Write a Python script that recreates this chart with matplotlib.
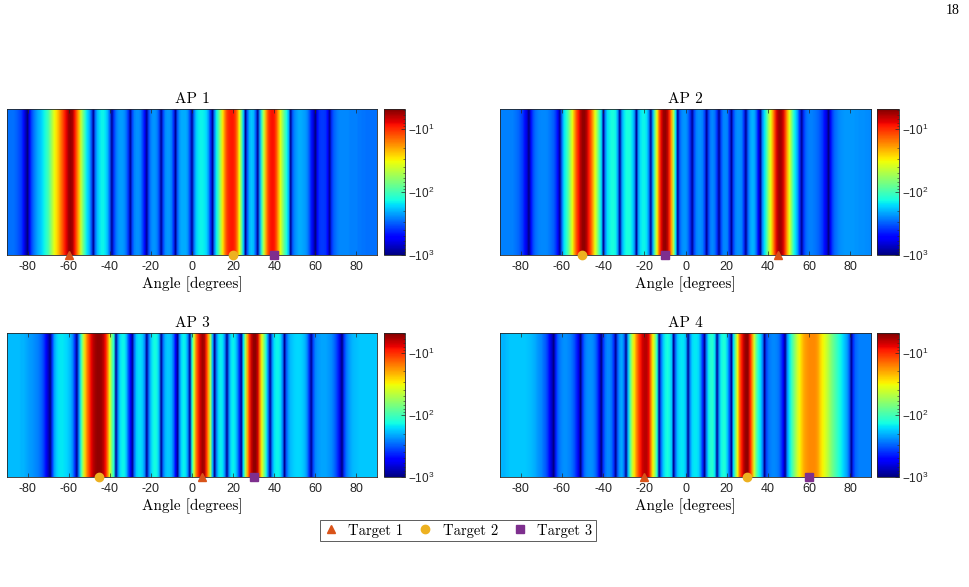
import numpy as np
import matplotlib
matplotlib.use("Agg")
import matplotlib.pyplot as plt
from matplotlib.lines import Line2D

# ---------------- data ----------------
# angle grid in degrees
angles = np.arange(-90, 91)

# spectrum value = -10**x ; lists hold x = log10(|value|) per degree, -90..90
ap1_log10_mag = [
    2.45, 2.45, 2.45, 2.45, 2.47, 2.5, 2.53, 2.58, 2.68, 2.85,
    3.0, 2.75, 2.55, 2.45, 2.38, 2.32, 2.27, 2.22, 2.15, 2.08,
    2.0, 1.85, 1.7, 1.55, 1.45, 1.35, 1.22, 1.1, 0.98, 0.88,
    0.75, 0.72, 0.78, 0.95, 1.15, 1.35, 1.65, 1.85, 2.05, 2.2,
    2.3, 2.5, 2.95, 2.45, 2.28, 2.2, 2.15, 2.15, 2.2, 2.3,
    2.5, 2.95, 2.6, 2.45, 2.38, 2.35, 2.35, 2.38, 2.45, 2.6,
    2.95, 2.55, 2.42, 2.38, 2.38, 2.42, 2.55, 2.7, 2.95, 2.55,
    2.42, 2.37, 2.37, 2.42, 2.55, 2.95, 2.55, 2.4, 2.36, 2.36,
    2.42, 2.6, 2.95, 2.5, 2.36, 2.32, 2.32, 2.32, 2.38, 2.55,
    2.95, 2.45, 2.25, 2.18, 2.15, 2.15, 2.17, 2.22, 2.35, 2.6,
    2.95, 2.4, 2.15, 1.95, 1.7, 1.45, 1.22, 1.05, 0.98, 0.95,
    0.95, 1.02, 1.2, 1.5, 1.85, 2.25, 2.95, 2.5, 2.3, 2.25,
    2.3, 2.5, 2.95, 2.35, 2.0, 1.65, 1.3, 1.08, 0.97, 0.93,
    0.95, 1.08, 1.3, 1.55, 1.75, 1.95, 2.12, 2.3, 2.95, 2.5,
    2.4, 2.35, 2.32, 2.32, 2.33, 2.35, 2.4, 2.5, 2.65, 2.8,
    3.0, 2.7, 2.6, 2.58, 2.58, 2.6, 2.7, 2.95, 2.6, 2.5,
    2.45, 2.42, 2.4, 2.4, 2.4, 2.4, 2.4, 2.42, 2.42, 2.42,
    2.42, 2.43, 2.43, 2.44, 2.44, 2.45, 2.45, 2.45, 2.45, 2.45,
    2.45,
]
ap2_log10_mag = [
    2.42, 2.42, 2.42, 2.42, 2.42, 2.42, 2.42, 2.43, 2.45, 2.48,
    2.52, 2.58, 2.68, 2.8, 3.0, 2.7, 2.55, 2.47, 2.43, 2.41,
    2.4, 2.4, 2.4, 2.41, 2.43, 2.46, 2.5, 2.58, 2.7, 2.95,
    2.45, 2.2, 2.1, 1.95, 1.75, 1.55, 1.3, 1.1, 0.95, 0.8,
    0.72, 0.72, 0.8, 0.95, 1.1, 1.3, 1.55, 1.75, 2.0, 2.2,
    2.95, 2.4, 2.2, 2.15, 2.12, 2.12, 2.15, 2.35, 2.95, 2.35,
    2.2, 2.13, 2.12, 2.13, 2.2, 2.35, 2.95, 2.35, 2.2, 2.15,
    2.15, 2.2, 2.4, 2.95, 2.3, 1.9, 1.5, 1.15, 0.9, 0.75,
    0.72, 0.8, 1.0, 1.3, 1.7, 2.2, 2.95, 2.5, 2.4, 2.37,
    2.37, 2.45, 2.6, 2.95, 2.55, 2.42, 2.38, 2.38, 2.42, 2.55,
    2.95, 2.55, 2.42, 2.4, 2.45, 2.6, 2.95, 2.55, 2.42, 2.4,
    2.42, 2.6, 2.95, 2.55, 2.42, 2.38, 2.38, 2.42, 2.6, 2.95,
    2.5, 2.35, 2.3, 2.32, 2.45, 2.7, 2.95, 2.4, 2.2, 2.0,
    1.75, 1.55, 1.3, 1.05, 0.85, 0.75, 0.75, 0.85, 1.05, 1.3,
    1.55, 1.8, 2.05, 2.2, 2.35, 2.6, 2.95, 2.6, 2.48, 2.43,
    2.42, 2.42, 2.43, 2.45, 2.48, 2.52, 2.58, 2.68, 2.8, 3.0,
    2.7, 2.55, 2.47, 2.43, 2.4, 2.38, 2.37, 2.36, 2.36, 2.36,
    2.36, 2.36, 2.37, 2.37, 2.38, 2.38, 2.38, 2.39, 2.39, 2.4,
    2.4,
]
ap3_log10_mag = [
    2.28, 2.28, 2.28, 2.28, 2.28, 2.28, 2.28, 2.3, 2.3, 2.32,
    2.33, 2.35, 2.36, 2.38, 2.4, 2.42, 2.45, 2.5, 2.58, 2.7,
    2.85, 3.0, 2.6, 2.35, 2.25, 2.2, 2.18, 2.18, 2.2, 2.22,
    2.25, 2.3, 2.4, 2.6, 2.95, 2.4, 2.05, 1.7, 1.4, 1.2,
    1.05, 0.9, 0.8, 0.75, 0.72, 0.72, 0.75, 0.82, 0.95, 1.2,
    1.55, 1.85, 2.1, 2.95, 2.4, 2.2, 2.15, 2.15, 2.25, 2.5,
    2.7, 2.95, 2.45, 2.25, 2.2, 2.2, 2.25, 2.4, 2.95, 2.45,
    2.25, 2.15, 2.12, 2.15, 2.3, 2.95, 2.45, 2.3, 2.25, 2.25,
    2.3, 2.45, 2.7, 2.95, 2.4, 2.2, 2.15, 2.2, 2.4, 2.95,
    2.1, 1.6, 1.2, 1.0, 0.85, 0.75, 0.78, 1.0, 1.3, 1.75,
    2.3, 2.95, 2.4, 2.2, 2.15, 2.2, 2.4, 2.95, 2.4, 2.2,
    2.15, 2.2, 2.35, 2.6, 2.95, 2.2, 1.75, 1.3, 1.0, 0.82,
    0.72, 0.72, 0.85, 1.2, 1.55, 1.8, 2.1, 2.4, 2.95, 2.4,
    2.2, 2.15, 2.15, 2.2, 2.4, 2.95, 2.5, 2.35, 2.28, 2.25,
    2.23, 2.22, 2.22, 2.23, 2.25, 2.3, 2.4, 2.6, 2.95, 2.55,
    2.42, 2.37, 2.35, 2.33, 2.33, 2.33, 2.35, 2.37, 2.4, 2.45,
    2.52, 2.62, 2.8, 3.0, 2.6, 2.45, 2.38, 2.33, 2.3, 2.28,
    2.27, 2.26, 2.25, 2.25, 2.25, 2.25, 2.25, 2.25, 2.25, 2.25,
    2.25,
]
ap4_log10_mag = [
    2.3, 2.3, 2.3, 2.28, 2.27, 2.25, 2.25, 2.25, 2.25, 2.25,
    2.25, 2.25, 2.25, 2.26, 2.27, 2.28, 2.3, 2.32, 2.35, 2.38,
    2.4, 2.45, 2.5, 2.58, 2.7, 2.85, 3.0, 2.65, 2.5, 2.43,
    2.4, 2.38, 2.38, 2.4, 2.42, 2.46, 2.52, 2.62, 2.78, 3.0,
    2.6, 2.45, 2.4, 2.38, 2.38, 2.4, 2.45, 2.55, 2.75, 3.0,
    2.6, 2.45, 2.4, 2.4, 2.45, 2.6, 2.95, 2.5, 2.35, 2.32,
    2.45, 2.95, 2.3, 1.95, 1.65, 1.45, 1.25, 1.08, 0.95, 0.85,
    0.8, 0.8, 0.9, 1.2, 1.5, 1.75, 2.1, 2.95, 2.45, 2.25,
    2.15, 2.12, 2.15, 2.25, 2.95, 2.45, 2.25, 2.2, 2.18, 2.2,
    2.3, 2.95, 2.4, 2.22, 2.18, 2.18, 2.22, 2.35, 2.6, 2.95,
    2.4, 2.15, 2.08, 2.08, 2.2, 2.95, 2.35, 2.15, 2.1, 2.12,
    2.25, 2.5, 2.95, 2.2, 1.85, 1.5, 1.15, 0.95, 0.8, 0.72,
    0.72, 0.95, 1.25, 1.6, 1.9, 2.1, 2.2, 2.4, 2.95, 2.55,
    2.45, 2.42, 2.4, 2.4, 2.42, 2.45, 2.55, 2.7, 2.95, 2.4,
    2.2, 2.05, 1.9, 1.75, 1.6, 1.5, 1.4, 1.32, 1.27, 1.25,
    1.23, 1.23, 1.23, 1.25, 1.3, 1.4, 1.48, 1.55, 1.62, 1.7,
    1.8, 1.88, 1.95, 2.03, 2.1, 2.15, 2.22, 2.28, 2.35, 2.5,
    2.95, 2.6, 2.48, 2.44, 2.42, 2.42, 2.42, 2.42, 2.42, 2.42,
    2.42,
]

panel_titles = ["AP 1", "AP 2", "AP 3", "AP 4"]
target_labels = ["Target 1", "Target 2", "Target 3"]
# true target angles [Target 1, Target 2, Target 3] for each AP
ap1_targets = [-60, 20, 40]
ap2_targets = [45, -50, -10]
ap3_targets = [5, -45, 30]
ap4_targets = [-20, 30, 60]
x_ticks = [-80, -60, -40, -20, 0, 20, 40, 60, 80]
cbar_ticks_mag = [10, 100, 1000]
cbar_tick_labels = [r"$\mathrm{-10^{1}}$", r"$\mathrm{-10^{2}}$", r"$\mathrm{-10^{3}}$"]
cbar_top_mag = 4.8

# ---------------- styling ----------------
plt.rcParams["mathtext.fontset"] = "custom"
plt.rcParams["mathtext.rm"] = "Liberation Sans"
plt.rcParams["mathtext.sf"] = "Liberation Sans"
plt.rcParams["mathtext.it"] = "Liberation Sans:italic"

marker_styles = ["^", "o", "s"]
marker_colors = ["#D95319", "#EDB120", "#7E2F8E"]
axis_color = "#262626"

W, H = 969, 587


def rect(l, t, r, b):
    return [l / W, 1 - b / H, (r - l) / W, (b - t) / H]


ax_rects = [rect(7, 109, 377, 255), rect(500, 109, 871, 255),
            rect(7, 333, 377, 477), rect(500, 333, 871, 477)]
cb_rects = [rect(384, 109, 405, 255), rect(877, 109, 899, 255),
            rect(384, 333, 405, 477), rect(877, 333, 899, 477)]

all_data = [ap1_log10_mag, ap2_log10_mag, ap3_log10_mag, ap4_log10_mag]
all_targets = [ap1_targets, ap2_targets, ap3_targets, ap4_targets]

fig = plt.figure(figsize=(W / 100, H / 100), dpi=100)

vmin = -np.log10(cbar_ticks_mag[-1])
vmax = -np.log10(cbar_top_mag)

for k in range(4):
    spectrum = -10.0 ** np.asarray(all_data[k])          # negative spectrum values
    cval = -np.log10(-spectrum)                          # log colour coordinate
    ax = fig.add_axes(ax_rects[k])
    step = angles[1] - angles[0]
    im = ax.imshow(cval[np.newaxis, :], cmap="jet", vmin=vmin, vmax=vmax,
                   aspect="auto", interpolation="bilinear",
                   extent=(angles[0] - step / 2, angles[-1] + step / 2, 0, 1))
    ax.set_xlim(-90, 90)
    ax.set_ylim(0, 1)
    ax.set_yticks([])
    ax.set_xticks(x_ticks)
    ax.set_xticklabels([str(t) for t in x_ticks], fontfamily="Liberation Sans")
    ax.tick_params(axis="x", direction="in", top=True, bottom=True, length=3,
                   width=0.5, labelsize=9, pad=4.5, color=axis_color,
                   labelcolor=axis_color)
    for sp in ax.spines.values():
        sp.set_color(axis_color)
        sp.set_linewidth(0.6)
    ax.set_title(panel_titles[k], fontfamily="cmr10", fontsize=11, pad=4)
    ax.set_xlabel("Angle [degrees]", fontfamily="cmr10", fontsize=11, labelpad=2)

    for j in range(3):
        ax.plot([all_targets[k][j]], [0.0], linestyle="none",
                marker=marker_styles[j], color=marker_colors[j],
                markersize=6, clip_on=False, zorder=5)

    cax = fig.add_axes(cb_rects[k])
    cb = fig.colorbar(im, cax=cax)
    cb.set_ticks([-np.log10(m) for m in cbar_ticks_mag])
    cb.set_ticklabels(cbar_tick_labels)
    minor = []
    for dec in [1, 10, 100]:
        for mult in range(2, 10):
            m = dec * mult
            if cbar_top_mag < m < cbar_ticks_mag[-1]:
                minor.append(-np.log10(m))
    cax.set_yticks(minor, minor=True)
    cax.tick_params(axis="y", which="major", direction="in", length=3,
                    width=0.5, labelsize=8.5, pad=2, color=axis_color,
                    labelcolor=axis_color)
    cax.tick_params(axis="y", which="minor", direction="in", length=1.5,
                    width=0.4, color=axis_color)
    cb.outline.set_edgecolor(axis_color)
    cb.outline.set_linewidth(0.6)

handles = [Line2D([], [], linestyle="none", marker=marker_styles[j],
                  color=marker_colors[j], markersize=6) for j in range(3)]
leg = fig.legend(handles, target_labels, loc="center",
                 bbox_to_anchor=(458 / W, 1 - 530.5 / H), ncol=3,
                 prop={"family": "cmr10", "size": 10.5}, frameon=True,
                 fancybox=False, edgecolor="#333333", handlelength=1.0,
                 handletextpad=0.7, columnspacing=1.0, borderpad=0.25,
                 borderaxespad=0)
leg.get_frame().set_linewidth(0.7)

fig.text(953 / W, 1 - 11 / H, "18", fontfamily="Liberation Serif",
         fontsize=10, ha="center", va="center")

fig.savefig("out.png", dpi=100)
